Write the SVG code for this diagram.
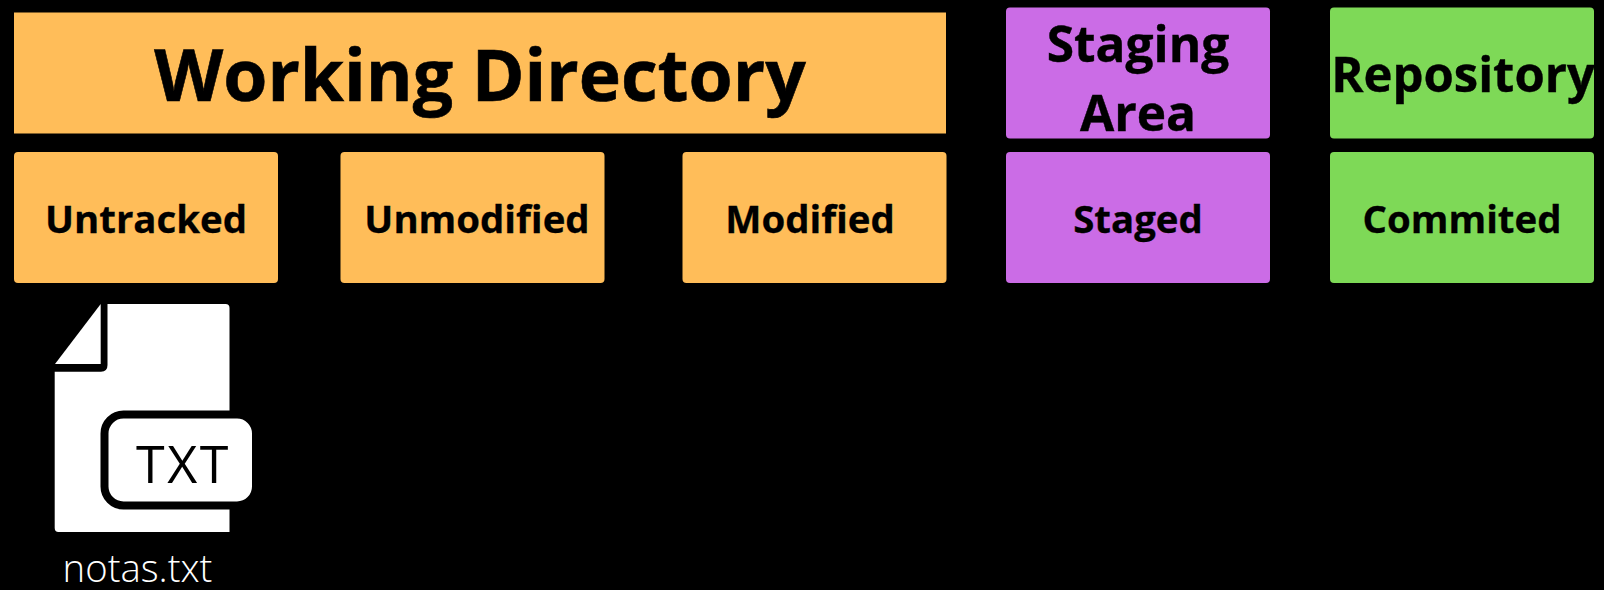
<svg xmlns="http://www.w3.org/2000/svg" width="1604" height="590" viewBox="0 0 1604 590">
  <style>
    text { font-family: "Open Sans", "Liberation Sans", sans-serif; fill: #000; text-anchor: middle; }
    .b { font-weight: 700; }
    .h1 { font-size: 71.400px; stroke: #000; stroke-width: 0.6px; }
    .h2 { font-size: 49.600px; stroke: #000; stroke-width: 0.4px; }
    .s { font-size: 38.400px; stroke: #000; stroke-width: 0.3px; }
    .o { fill: #ffbd59; }
    .p { fill: #cb6ce6; }
    .g { fill: #7ed957; }
  </style>
  <rect width="1604" height="590" fill="#000"/>
  <g id="working-directory">
    <rect class="o" x="14" y="12.500" width="932" height="121"/>
    <text class="b h1" x="480" y="101">Working Directory</text>
  </g>
  <g id="staging-area">
    <rect class="p" x="1006" y="7.500" width="264" height="131" rx="4"/>
    <text class="b h2" x="1138" y="62">Staging</text>
    <text class="b h2" x="1138" y="131">Area</text>
  </g>
  <g id="repository">
    <rect class="g" x="1330" y="7.500" width="264" height="131" rx="4"/>
    <text class="b h2" x="1463" y="92" style="font-size:49px">Repository</text>
  </g>
  <g id="untracked">
    <rect class="o" x="14" y="152" width="264" height="131" rx="4"/>
    <text class="b s" x="146" y="232.500">Untracked</text>
  </g>
  <g id="unmodified">
    <rect class="o" x="340.500" y="152" width="264" height="131" rx="4"/>
    <text class="b s" x="477" y="232.500">Unmodified</text>
  </g>
  <g id="modified">
    <rect class="o" x="682.500" y="152" width="264" height="131" rx="4"/>
    <text class="b s" x="810" y="232.500">Modified</text>
  </g>
  <g id="staged">
    <rect class="p" x="1006" y="152" width="264" height="131" rx="4"/>
    <text class="b s" x="1138" y="232.500">Staged</text>
  </g>
  <g id="commited">
    <rect class="g" x="1330" y="152" width="264" height="131" rx="4"/>
    <text class="b s" x="1462" y="232.500">Commited</text>
  </g>
  <g id="notas-file">
    <path fill="#fff" d="M100.700 304V364H55Z"/>
    <path fill="#fff" d="M107.500 304H225.500Q229.500 304 229.500 308V532H58.500Q54.700 532 54.700 528V371.700H101Q107.500 371.700 107.500 365Z"/>
    <rect x="104.500" y="414.500" width="151.500" height="91" rx="19" fill="#fff" stroke="#000" stroke-width="8"/>
    <text x="183.500" y="483" font-size="52" font-weight="400" letter-spacing="2.500">TXT</text>
    <text x="137.500" y="581.500" font-size="38.300" font-weight="300" style="fill:#fff">notas.txt</text>
  </g>
</svg>
